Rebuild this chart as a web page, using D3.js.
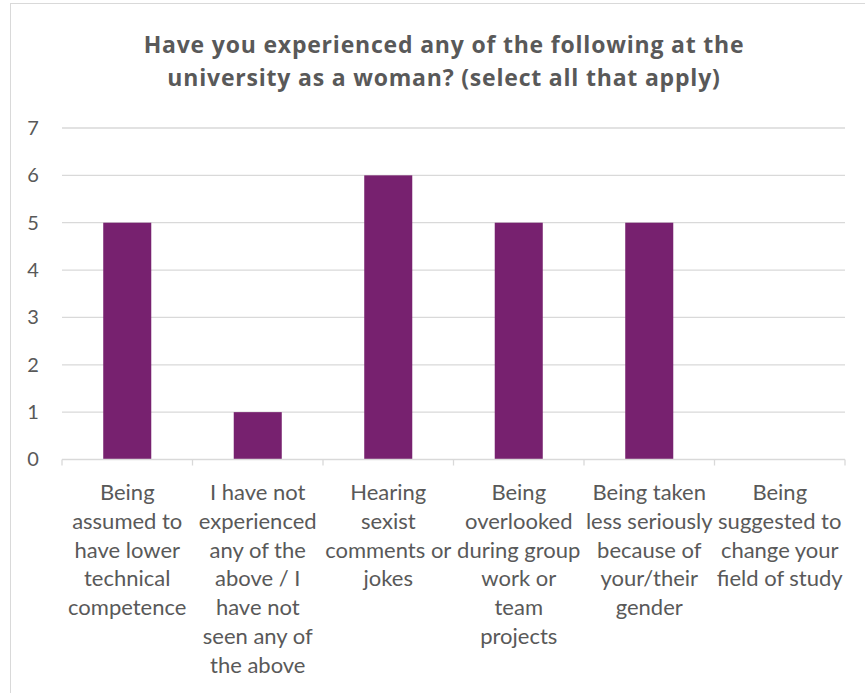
<!DOCTYPE html>
<html>
<head>
<meta charset="utf-8">
<script src="https://cdn.jsdelivr.net/npm/d3@7"></script>
<style>
  html, body { margin: 0; padding: 0; background: #fff; }
  svg { display: block; }
</style>
</head>
<body>
<svg id="chart" width="865" height="693"></svg>
<script>
// Survey responses: number of respondents selecting each option
const categories = [
  "Being assumed to have lower technical competence",
  "I have not experienced any of the above / I have not seen any of the above",
  "Hearing sexist comments or jokes",
  "Being overlooked during group work or team projects",
  "Being taken less seriously because of your/their gender",
  "Being suggested to change your field of study"
];
const counts = [5, 1, 6, 5, 5, 0];
// Wrapped category labels, one entry per category
const labelLines = [
  ["Being", "assumed to", "have lower", "technical", "competence"],
  ["I have not", "experienced", "any of the", "above / I", "have not", "seen any of", "the above"],
  ["Hearing", "sexist", "comments or", "jokes"],
  ["Being", "overlooked", "during group", "work or", "team", "projects"],
  ["Being taken", "less seriously", "because of", "your/their", "gender"],
  ["Being", "suggested to", "change your", "field of study"]
];
const yTicks = [0, 1, 2, 3, 4, 5, 6, 7];
const titleLines = [
  "Have you experienced any of the following at the",
  "university as a woman? (select all that apply)"
];

const FONT = "Lato, 'Open Sans', sans-serif";
const TITLE_FONT = "'Open Sans', Lato, sans-serif";
const TEXT = "#595959";
const GRID = "#d9d9d9";
const BAR = "#77216F";

const svg = d3.select("#chart");

// chart frame
svg.append("rect")
  .attr("x", 10.5).attr("y", 3.5)
  .attr("width", 900).attr("height", 720)
  .attr("fill", "#fff").attr("stroke", GRID).attr("stroke-width", 1);

const plotL = 62, plotR = 845, plotT = 128, plotB = 459.5;

const x = d3.scaleBand().domain(categories).range([plotL, plotR]).paddingInner(0.632).paddingOuter(0.316);
const y = d3.scaleLinear().domain([0, 7]).range([plotB, plotT]);

// title
svg.append("text")
  .attr("text-anchor", "middle")
  .attr("font-family", TITLE_FONT).attr("font-weight", "bold")
  .attr("font-size", 23).attr("letter-spacing", 0.8).attr("fill", TEXT)
  .selectAll("tspan").data(titleLines).join("tspan")
  .attr("x", 444).attr("y", (d, i) => 53 + i * 33)
  .text(d => d);

// gridlines
svg.append("g").selectAll("line").data(yTicks.filter(d => d > 0)).join("line")
  .attr("x1", plotL).attr("x2", plotR)
  .attr("y1", d => y(d)).attr("y2", d => y(d))
  .attr("stroke", GRID).attr("stroke-width", 1.3);

// y axis labels
const yAxis = d3.axisLeft(y).tickValues(yTicks).tickSize(0).tickPadding(0).tickFormat(d3.format("d"));
const gy = svg.append("g").attr("transform", `translate(33,0)`).call(yAxis);
gy.select(".domain").remove();
gy.selectAll("text")
  .attr("font-family", FONT).attr("font-size", 20).attr("fill", TEXT)
  .attr("text-anchor", "middle");

// bars
svg.append("g").selectAll("rect").data(categories).join("rect")
  .attr("x", d => x(d))
  .attr("width", x.bandwidth())
  .attr("y", (d, i) => y(counts[i]))
  .attr("height", (d, i) => y(0) - y(counts[i]))
  .attr("fill", BAR);

// x axis line and category boundary ticks
const xAxisG = svg.append("g");
xAxisG.append("line")
  .attr("x1", plotL).attr("x2", plotR)
  .attr("y1", plotB).attr("y2", plotB)
  .attr("stroke", GRID).attr("stroke-width", 1.3);
const step = x.step();
const bounds = d3.range(categories.length + 1).map(i => plotL + i * step);
xAxisG.selectAll("line.tick").data(bounds).join("line")
  .attr("class", "tick")
  .attr("x1", d => d).attr("x2", d => d)
  .attr("y1", plotB).attr("y2", plotB + 6)
  .attr("stroke", GRID).attr("stroke-width", 1.3);

// category labels
const lbl = svg.append("g").selectAll("text").data(categories).join("text")
  .attr("text-anchor", "middle")
  .attr("font-family", FONT).attr("font-size", 22).attr("fill", TEXT);
lbl.each(function(d, i) {
  const cx = x(d) + x.bandwidth() / 2;
  d3.select(this).selectAll("tspan").data(labelLines[i]).join("tspan")
    .attr("x", cx)
    .attr("y", (t, j) => 500 + j * 28.8)
    .text(t => t);
});
</script>
</body>
</html>
